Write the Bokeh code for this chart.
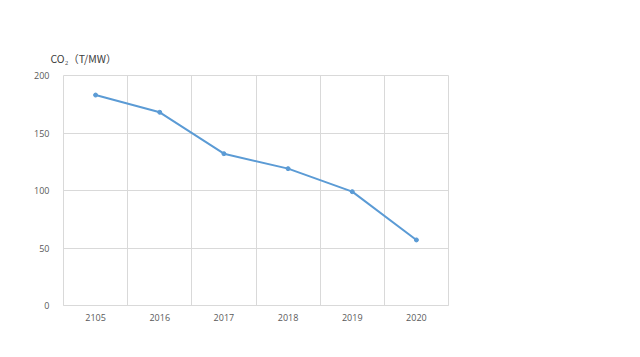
from bokeh.plotting import figure
from bokeh.models import FixedTicker, Range1d
from bokeh.embed import file_html
from bokeh.resources import INLINE

years = ["2105", "2016", "2017", "2018", "2019", "2020"]
co2 = [183, 168, 132, 119, 99, 57]
y_ticks = [0, 50, 100, 150, 200]
unit_label = "CO₂（T/MW）"

xs = [i + 0.5 for i in range(len(years))]

p = figure(width=640, height=357, output_backend="svg", toolbar_location=None,
           x_range=Range1d(0, len(years)), y_range=Range1d(0, 200),
           min_border_left=63, min_border_right=192, min_border_top=75, min_border_bottom=52,
           title=unit_label)
p.background_fill_color = "white"
p.border_fill_color = "white"
p.outline_line_color = "#d9d9d9"
p.outline_line_width = 1

p.title.align = "left"
p.title.offset = -13
p.title.standoff = 20
p.title.text_font = "Noto Sans CJK SC"
p.title.text_font_size = "10.5px"
p.title.text_font_style = "normal"
p.title.text_color = "#404040"

p.xaxis.ticker = FixedTicker(ticks=xs)
p.xaxis.major_label_overrides = {x: y for x, y in zip(xs, years)}
p.xgrid.ticker = FixedTicker(ticks=list(range(len(years) + 1)))
p.yaxis.ticker = FixedTicker(ticks=y_ticks)

for ax in (p.xaxis, p.yaxis):
    ax.axis_line_color = None
    ax.major_tick_line_color = None
    ax.minor_tick_line_color = None
    ax.major_label_text_font = "Open Sans"
    ax.major_label_text_font_size = "9px"
    ax.major_label_text_color = "#595959"
p.xaxis.major_label_standoff = 2
p.yaxis.major_label_standoff = 8

p.xgrid.grid_line_color = "#d9d9d9"
p.ygrid.grid_line_color = "#d9d9d9"
p.xaxis.axis_line_color = "#d9d9d9"

p.line(xs, co2, line_color="#5b9bd5", line_width=2)
p.scatter(xs, co2, size=4, fill_color="#5b9bd5", line_color="#5b9bd5")

open("out.html", "w").write(file_html(p, INLINE))
